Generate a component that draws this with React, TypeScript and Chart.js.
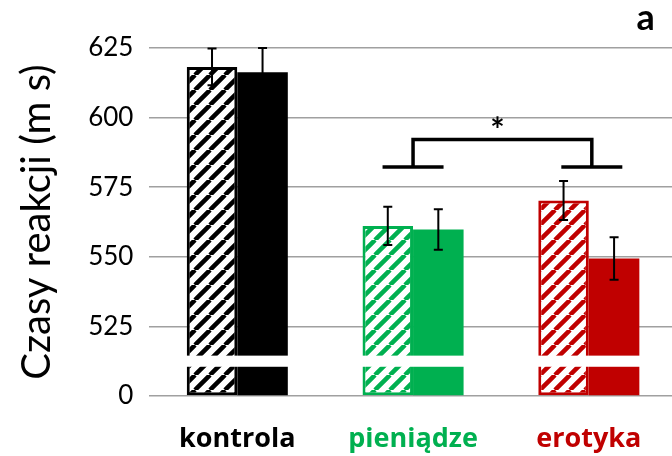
import React, { useEffect, useRef } from 'react';
import { Chart, registerables } from 'chart.js';

Chart.register(...registerables);

const categories = ['kontrola', 'pieniądze', 'erotyka'];
const hatchedValues = [618.2, 561.1, 570.2];
const hatchedErrors = [6.6, 6.9, 7.0];
const solidValues = [616.3, 559.8, 549.4];
const solidErrors = [8.7, 7.3, 7.6];
const categoryColors = ['#000000', '#00B050', '#C00000'];
// axis is broken: the value 500 on the internal scale is labelled "0"
const axisZero = 500;
const axisMax = 625;
const axisStep = 25;
const breakRange = [510.5, 514.5];
const bracketFeetValue = 582.3;
const bracketTopValue = 592.1;
const starValue = 598;
const yTitle = 'Czasy reakcji (m s)';
const panelLabel = 'a';

const FONT = 'Lato';
const XFONT = 'Open Sans';

function makeHatch(color: string): CanvasPattern | string {
  const size = 15;
  const c = document.createElement('canvas');
  c.width = size;
  c.height = size;
  const g = c.getContext('2d');
  if (!g) return color;
  g.fillStyle = '#ffffff';
  g.fillRect(0, 0, size, size);
  g.strokeStyle = color;
  g.lineWidth = 4.5;
  g.beginPath();
  for (let k = -1; k <= 1; k++) {
    g.moveTo(k * size, size);
    g.lineTo(k * size + size, 0);
  }
  g.stroke();
  const p = g.createPattern(c, 'repeat');
  return p || color;
}

const overlayPlugin = {
  id: 'overlay',
  afterDatasetsDraw(chart: any) {
    const { ctx, chartArea, scales } = chart;
    const x = scales.x;
    const y = scales.y;
    ctx.save();
    // axis break
    const yTop = y.getPixelForValue(breakRange[1]);
    const yBot = y.getPixelForValue(breakRange[0]);
    ctx.fillStyle = '#ffffff';
    ctx.fillRect(chartArea.left, yTop, chartArea.right - chartArea.left, yBot - yTop);

    // error bars
    const sets = [
      { vals: hatchedValues, errs: hatchedErrors },
      { vals: solidValues, errs: solidErrors },
    ];
    sets.forEach((s, di) => {
      const meta = chart.getDatasetMeta(di);
      meta.data.forEach((bar: any, j: number) => {
        const cx = bar.x;
        const top = y.getPixelForValue(s.vals[j] + s.errs[j]);
        const bot = y.getPixelForValue(s.vals[j] - s.errs[j]);
        ctx.strokeStyle = '#000000';
        ctx.lineWidth = 2;
        ctx.beginPath();
        ctx.moveTo(cx, top);
        ctx.lineTo(cx, bot);
        ctx.moveTo(cx - 4.5, top);
        ctx.lineTo(cx + 4.5, top);
        ctx.moveTo(cx - 4.5, bot);
        ctx.lineTo(cx + 4.5, bot);
        ctx.stroke();
      });
    });

    // significance bracket
    const c1 = x.getPixelForValue(1);
    const c2 = x.getPixelForValue(2) + 3;
    const fy = y.getPixelForValue(bracketFeetValue);
    const ty = y.getPixelForValue(bracketTopValue);
    const half = 30.5;
    ctx.lineWidth = 3.5;
    ctx.lineJoin = 'miter';
    ctx.beginPath();
    ctx.moveTo(c1 - half, fy);
    ctx.lineTo(c1 + half, fy);
    ctx.moveTo(c1, fy);
    ctx.lineTo(c1, ty);
    ctx.lineTo(c2, ty);
    ctx.lineTo(c2, fy);
    ctx.moveTo(c2 - half, fy);
    ctx.lineTo(c2 + half, fy);
    ctx.stroke();

    ctx.fillStyle = '#000000';
    ctx.font = `bold 34px ${FONT}`;
    ctx.textAlign = 'center';
    ctx.textBaseline = 'alphabetic';
    ctx.fillText('*', (c1 + c2) / 2 - 5, y.getPixelForValue(starValue) + 19);

    ctx.font = `bold 36px ${FONT}`;
    ctx.fillText(panelLabel, chartArea.right - 31, 30);
    ctx.restore();
  },
};

export default function App() {
  const ref = useRef<HTMLCanvasElement | null>(null);
  useEffect(() => {
    if (!ref.current) return;
    const patterns = categoryColors.map((c) => makeHatch(c));
    const chart = new Chart(ref.current, {
      type: 'bar',
      data: {
        labels: categories,
        datasets: [
          {
            label: 'hatched',
            data: hatchedValues,
            base: axisZero,
            backgroundColor: patterns as any,
            borderColor: categoryColors,
            borderWidth: 3,
            borderSkipped: false,
          } as any,
          {
            label: 'solid',
            data: solidValues,
            base: axisZero,
            backgroundColor: categoryColors,
            borderWidth: 0,
          } as any,
        ],
      },
      options: {
        animation: false,
        responsive: false,
        devicePixelRatio: 1,
        layout: { padding: { top: 48, right: 3.3, bottom: 0, left: 0 } },
        datasets: { bar: { categoryPercentage: 0.575, barPercentage: 1 } },
        plugins: { legend: { display: false }, tooltip: { enabled: false } },
        scales: {
          x: {
            grid: { display: false, drawTicks: false },
            border: { display: false },
            afterFit: (s: any) => {
              s.height = 60;
            },
            ticks: {
              font: { family: XFONT, size: 27, weight: 'bold' },
              color: (ctx: any) => categoryColors[ctx.index],
              padding: 27,
            },
          },
          y: {
            min: axisZero,
            max: axisMax,
            afterFit: (s: any) => {
              s.width = 149.4;
            },
            ticks: {
              stepSize: axisStep,
              font: { family: FONT, size: 26 },
              color: '#000000',
              padding: 16,
              callback: (v: any) => (v === axisZero ? '0' : String(v)),
            },
            grid: { color: '#a0a0a0', lineWidth: 1.5, drawTicks: false },
            border: { display: false },
            title: {
              display: true,
              text: yTitle,
              color: '#000000',
              font: { family: FONT, size: 40 },
              padding: { top: 13, bottom: 0 },
            },
          },
        },
      },
      plugins: [overlayPlugin],
    } as any);
    return () => chart.destroy();
  }, []);
  return (
    <div style={{ position: 'absolute', left: 0, top: 0, width: 672, height: 456, overflow: 'hidden', background: '#fff' }}>
      <canvas ref={ref} width={680} height={456} style={{ display: 'block', width: 680, height: 456 }} />
    </div>
  );
}
